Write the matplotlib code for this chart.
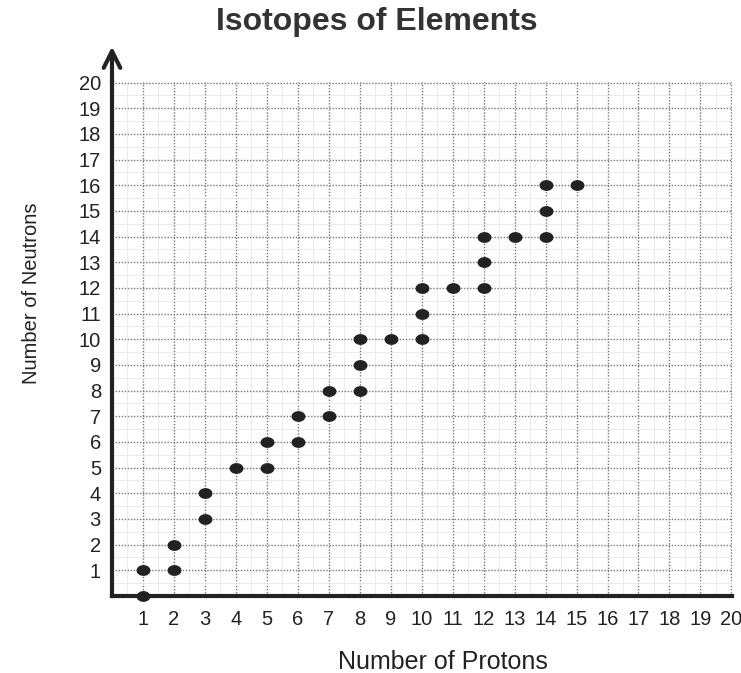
import numpy as np
import matplotlib.pyplot as plt

plt.rcParams['font.family'] = ['Liberation Sans', 'DejaVu Sans']

# isotopes
protons = [1, 1, 2, 2, 3, 3, 4, 5, 5, 6, 6, 7, 7, 8, 8, 8, 9, 10, 10, 10,
           11, 12, 12, 12, 13, 14, 14, 14, 15]
neutrons = [0, 1, 1, 2, 3, 4, 5, 5, 6, 6, 7, 7, 8, 8, 9, 10, 10, 10, 11, 12,
            12, 12, 13, 14, 14, 14, 15, 16, 16]
ticks = list(range(1, 21))

fig = plt.figure(figsize=(7.41, 6.73), dpi=100)
ax = fig.add_axes([112/741, 77/673, 620/741, 514/673])

ax.set_xlim(0, 20.02)
ax.set_ylim(0, 20.02)

# faint half-step grid and dotted integer grid
ax.set_xticks(np.arange(0.5, 20.5, 1), minor=True)
ax.set_yticks(np.arange(0.5, 20.5, 1), minor=True)
ax.grid(which='minor', color='#e8e8e8', linestyle='-', linewidth=0.6)
ax.grid(which='major', color='#777777', linestyle=(0, (1, 1.2)), linewidth=1.0)

ax.set_xticks(ticks)
ax.set_yticks(ticks)
ax.tick_params(which='both', length=0, labelsize=14.5, colors='#222222')
ax.tick_params(axis='x', pad=10)
ax.tick_params(axis='y', pad=8)

for s in ['top', 'right']:
    ax.spines[s].set_visible(False)
for s in ['left', 'bottom']:
    ax.spines[s].set_linewidth(3)
    ax.spines[s].set_color('#222222')

ax.annotate('', xy=(0, 21.4), xytext=(0, 19.9), annotation_clip=False,
            arrowprops=dict(arrowstyle='->', lw=3, color='#222222',
                            mutation_scale=30, shrinkA=0, shrinkB=0))

# slightly flattened dots like the hand-drawn ones
t = np.linspace(0, 2*np.pi, 40)
dot = np.column_stack([np.cos(t), 0.75*np.sin(t)])
ax.plot(protons, neutrons, linestyle='none', marker=dot, color='#222222',
        markersize=9, clip_on=False, zorder=5)

fig.text(0.509, 0.968, 'Isotopes of Elements', ha='center', va='center',
         fontsize=23, fontweight='bold', color='#333333')
fig.text(0.043, 0.565, 'Number of Neutrons', rotation=90, ha='center', va='center',
         fontsize=14.5, color='#222222')
fig.text(0.598, 0.016, 'Number of Protons', ha='center', va='center',
         fontsize=18, color='#222222')

fig.savefig('out.png', dpi=100)
plt.close()
